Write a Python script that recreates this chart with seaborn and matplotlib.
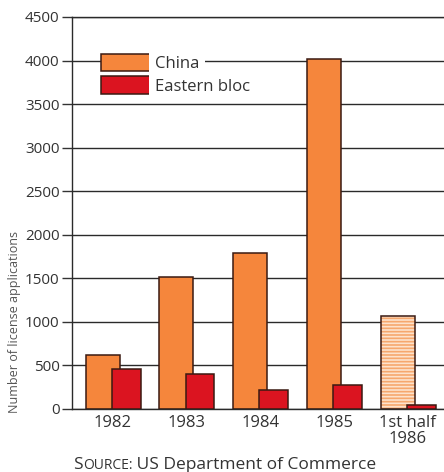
import matplotlib
matplotlib.use("Agg")
import matplotlib.pyplot as plt
import seaborn as sns
import pandas as pd
from matplotlib.patches import Rectangle

# License applications by period
periods = ["1982", "1983", "1984", "1985", "1st half\n1986"]
china = [625, 1510, 1790, 4020, 1070]
eastern_bloc = [460, 400, 220, 270, 50]
yticks = [0, 500, 1000, 1500, 2000, 2500, 3000, 3500, 4000, 4500]

sns.set_theme(style="white")
plt.rcParams["font.family"] = ["Open Sans", "DejaVu Sans"]
plt.rcParams["hatch.linewidth"] = 1.2

ORANGE = "#f5863c"
RED = "#db1420"
PALE = "#fde2cc"
STRIPE = "#f6a86e"
EDGE = "#3a1a12"
INK = "#333333"

df = pd.DataFrame({"period": periods, "China": china, "Eastern bloc": eastern_bloc})

fig = plt.figure(figsize=(4.44, 4.72), dpi=100)
ax = fig.add_axes([72 / 444, 63 / 472, 1 - 72 / 444, (409 - 17) / 472])

# China bars, shifted left of the period centre
sns.barplot(data=df, x="period", y="China", order=periods, color=ORANGE,
            width=0.46, saturation=1, edgecolor=EDGE, linewidth=1.1, ax=ax,
            zorder=2)
china_patches = list(ax.patches)
for p in china_patches:
    p.set_x(p.get_x() - 0.14)

# Eastern bloc bars, overlapping the right side of the China bars
sns.barplot(data=df, x="period", y="Eastern bloc", order=periods, color=RED,
            width=0.39, saturation=1, edgecolor=EDGE, linewidth=1.1, ax=ax,
            zorder=3)
for p in ax.patches[len(china_patches):]:
    p.set_x(p.get_x() + 0.18)

# Half-year bar: pale fill with horizontal stripes
half = china_patches[-1]
half.set_facecolor(PALE)
half.set_edgecolor(STRIPE)
half.set_hatch("-----")
half.set_linewidth(0)
ax.add_patch(Rectangle((half.get_x(), half.get_y()), half.get_width(),
                       half.get_height(), fill=False, edgecolor=EDGE,
                       linewidth=1.1, zorder=2.5))

ax.set_xlim(-0.556, 4.49)
ax.set_ylim(0, 4500)
ax.set_yticks(yticks)
ax.set_yticklabels([str(v) for v in yticks], fontsize=11, color=INK)
ax.tick_params(axis="x", length=0, labelsize=12, labelcolor=INK, pad=4)
ax.tick_params(axis="y", left=True, length=7, width=1, color=INK, pad=2)
ax.set_xlabel("")
ax.set_ylabel("Number of license applications", fontsize=9, color="#555555")
ax.yaxis.set_label_coords(-0.138, 0.222)
for lbl in ax.get_xticklabels():
    lbl.set_linespacing(1.0)

ax.yaxis.grid(True, color="#2a2a2a", linewidth=1)
ax.set_axisbelow(True)
ax.spines["right"].set_visible(False)
for s in ["left", "bottom", "top"]:
    ax.spines[s].set_color("#2a2a2a")
    ax.spines[s].set_linewidth(1)

handles = [Rectangle((0, 0), 1, 1, facecolor=ORANGE, edgecolor=EDGE, lw=1.1),
           Rectangle((0, 0), 1, 1, facecolor=RED, edgecolor=EDGE, lw=1.1)]
leg = ax.legend(handles, ["China", "Eastern bloc"], loc="upper left",
                bbox_to_anchor=(0.07, 0.915), frameon=False, fontsize=12,
                handlelength=3.0, handleheight=1.25, handletextpad=0.2,
                labelspacing=0.25, borderpad=0.2, borderaxespad=0)
for t in leg.get_texts():
    t.set_color(INK)
    t.set_bbox(dict(facecolor="white", edgecolor="none", pad=4))

# Source line with small-caps lead word
src = fig.text(73 / 444, 3 / 472, "S", fontsize=12.5, color=INK,
               va="baseline")
rest = ax.annotate("OURCE:", xy=(1, 0), xycoords=src, va="bottom", ha="left",
                   fontsize=10, color=INK)
ax.annotate(" US Department of Commerce", xy=(1, 0), xycoords=rest,
            va="bottom", ha="left", fontsize=12.5, color=INK)

fig.savefig("out.png", dpi=100)
